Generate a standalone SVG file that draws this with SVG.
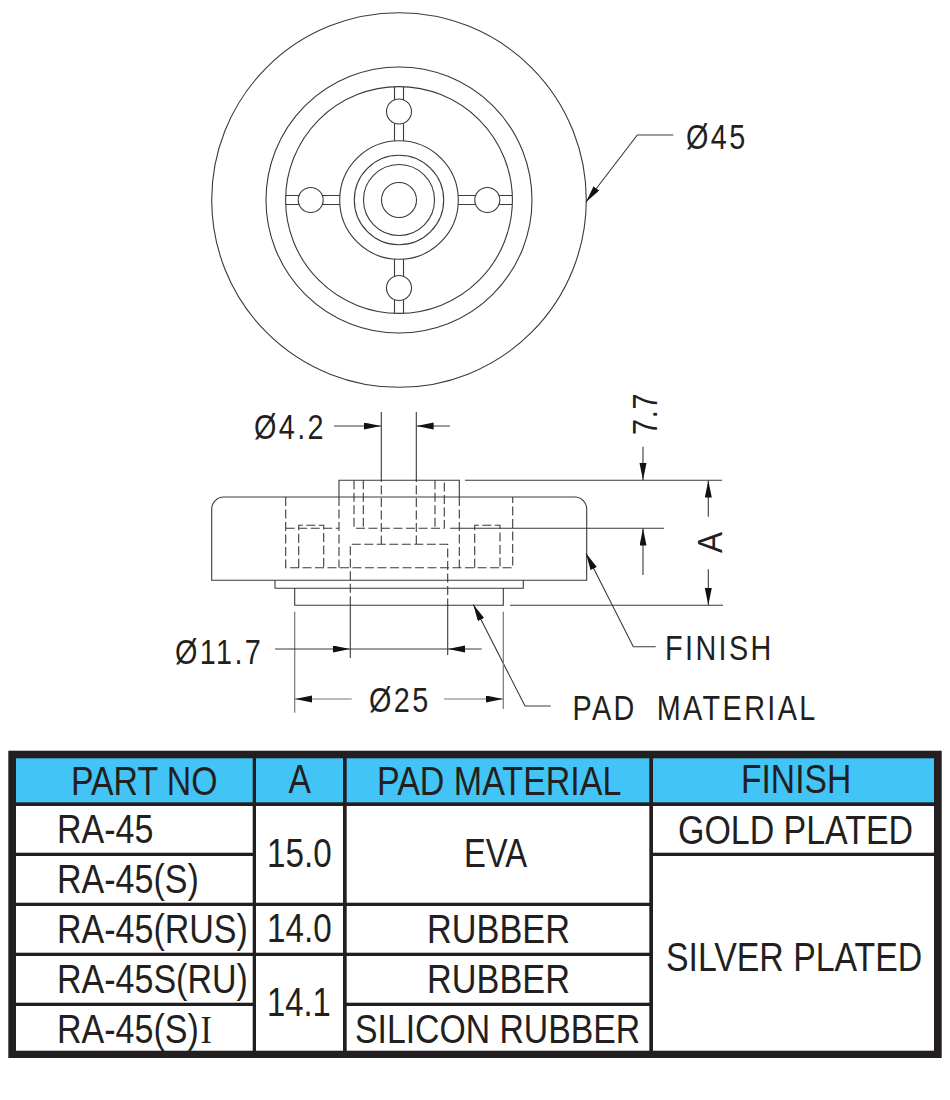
<svg xmlns="http://www.w3.org/2000/svg" width="950" height="1100" viewBox="0 0 950 1100">
<style>
.l{fill:none;stroke:#3a3a3a;stroke-width:1.1}
.g{fill:none;stroke:#777;stroke-width:1.2}
.d{fill:none;stroke:#3a3a3a;stroke-width:1.1;stroke-dasharray:9 3.5}
.c{fill:#fff;stroke:#3a3a3a;stroke-width:1.1}
.t{font-family:"Liberation Sans",Arial,sans-serif;font-size:41px;fill:#231f20}
.s{font-family:"Liberation Sans",Arial,sans-serif;font-size:36px;fill:#231f20;letter-spacing:3px}
.b{fill:#231f20}
</style>
<defs>
<marker id="ah" markerUnits="userSpaceOnUse" markerWidth="18" markerHeight="8" refX="17" refY="3.5" orient="auto"><path d="M0 0L17 3.5L0 7Z" fill="#111"/></marker>
</defs>
<rect width="950" height="1100" fill="#fff"/>
<g id="top-view">
<circle class="l" cx="399" cy="200" r="187.3"/>
<circle class="l" cx="399" cy="200" r="133"/>
<circle class="l" cx="399" cy="200" r="113.4"/>
<circle class="l" cx="399" cy="200" r="59.3"/>
<circle class="l" cx="399" cy="200" r="44.7"/>
<circle class="l" cx="399" cy="200" r="35.5"/>
<circle class="l" cx="399" cy="200" r="17.5"/>
<path class="l" d="M394.5 86.7V141M403.5 86.7V141M394.5 259V313.3M403.5 259V313.3M285.6 195.5H340M285.6 204.5H340M458 195.5H512.4M458 204.5H512.4"/>
<circle class="c" cx="399" cy="111.5" r="12.5"/>
<circle class="c" cx="399" cy="288" r="12.5"/>
<circle class="c" cx="310.7" cy="200" r="12.5"/>
<circle class="c" cx="487.3" cy="200" r="12.5"/>
</g>
<g id="side-view">
<path class="l" d="M211.7 580.3V509A12 12 0 0 1 223.7 497H574.7A12 12 0 0 1 586.7 509V580.3Z"/>
<path class="l" d="M339 497V480.3H459.3V497M275 580.3V588.3H523.3V580.3M294.7 588.3V605.3H503.3V588.3"/>
<path class="d" d="M339 497V567.7M459.3 497V567.7M285.7 497V567.7H512.7V497M285.7 528.3H339M298.7 567.7V525.3H323.7V567.7M474.7 567.7V525.3H500V567.7M354 480.3V528.3H444.3V480.3M363.3 480.3V528.3M435 480.3V528.3M350.3 605.3V544.3H447.7V605.3M381.3 473V544.3M416.3 473V544.3"/>
</g>
<g id="connectors">
<path class="l" d="M673.3 135H637.3L586 202" marker-end="url(#ah)"/>
<path class="l" d="M381.3 412V473M416.3 412V473"/>
<path class="l" d="M334 426H381" marker-end="url(#ah)"/>
<path class="l" d="M450 426H416.6" marker-end="url(#ah)"/>
<path class="l" d="M465 480.3H722M450 528.3H664M510 605.3H723"/>
<path class="l" d="M643 446.7V480" marker-end="url(#ah)"/>
<path class="l" d="M643 575V528.6" marker-end="url(#ah)"/>
<path class="l" d="M708.3 516.7V480.5" marker-end="url(#ah)"/>
<path class="l" d="M708.3 569.3V605" marker-end="url(#ah)"/>
<path class="l" d="M655.7 646.7H633.3L586 553.3" marker-end="url(#ah)"/>
<path class="l" d="M550.7 706H525L473.3 604.5" marker-end="url(#ah)"/>
<path class="g" d="M294.7 611.7V712.7M503.3 611.7V709"/>
<path class="l" d="M350.3 605V658M447.7 605V655"/>
<path class="l" d="M275 649H350" marker-end="url(#ah)"/>
<path class="l" d="M350 649H448" stroke-width="1.5"/>
<path class="l" d="M481.7 649H448" marker-end="url(#ah)"/>
<path class="g" d="M351.7 699H295" marker-end="url(#ah)"/>
<path class="g" d="M444 699H503" marker-end="url(#ah)"/>
</g>
<g id="labels">
<text class="s" transform="translate(686 148.5) scale(.8 1)">Ø45</text>
<text class="s" transform="translate(254 439) scale(.8 1)">Ø4.2</text>
<text class="s" transform="translate(175 663.5) scale(.8 1)">Ø11.7</text>
<text class="s" transform="translate(369 711.7) scale(.8 1)">Ø25</text>
<text class="s" transform="translate(665 660) scale(.8 1)">FINISH</text>
<text class="s" transform="translate(572.5 720) scale(.8 1)" style="letter-spacing:3px;word-spacing:12px">PAD MATERIAL</text>
<text class="s" transform="translate(656.7 435) rotate(-90) scale(.8 1)" style="letter-spacing:1px">7.7</text>
<text class="s" transform="translate(721.7 553) rotate(-90) scale(.875 1)">A</text>
</g>
<g id="table">
<rect x="8.3" y="750.7" width="933.4" height="307.3" class="b"/>
<g fill="#42c5f6">
<rect x="16" y="758.3" width="236.7" height="44"/>
<rect x="256" y="758.3" width="87" height="44"/>
<rect x="346.7" y="758.3" width="302.6" height="44"/>
<rect x="653" y="758.3" width="281" height="44"/>
</g>
<g fill="#fff">
<rect x="16" y="806" width="236.7" height="46.7"/>
<rect x="16" y="856" width="236.7" height="46.7"/>
<rect x="16" y="906" width="236.7" height="46.7"/>
<rect x="16" y="956" width="236.7" height="46.7"/>
<rect x="16" y="1006" width="236.7" height="44.7"/>
<rect x="256" y="806" width="87" height="96.7"/>
<rect x="256" y="906" width="87" height="46.7"/>
<rect x="256" y="956" width="87" height="94.7"/>
<rect x="346.7" y="806" width="302.6" height="96.7"/>
<rect x="346.7" y="906" width="302.6" height="46.7"/>
<rect x="346.7" y="956" width="302.6" height="46.7"/>
<rect x="346.7" y="1006" width="302.6" height="44.7"/>
<rect x="653" y="806" width="281" height="46.7"/>
<rect x="653" y="856" width="281" height="194.7"/>
</g>
<text class="t" transform="translate(71 795) scale(.825 1)">PART NO</text>
<text class="t" transform="translate(288.5 793.3) scale(.82 1)">A</text>
<text class="t" transform="translate(377 795) scale(.83 1)">PAD MATERIAL</text>
<text class="t" transform="translate(741 793.3) scale(.82 1)">FINISH</text>
<text class="t" transform="translate(57 843.3) scale(.83 1)">RA-45</text>
<text class="t" transform="translate(57 893.3) scale(.83 1)">RA-45(S)</text>
<text class="t" transform="translate(57 943.3) scale(.83 1)">RA-45(RUS)</text>
<text class="t" transform="translate(57 993.3) scale(.83 1)">RA-45S(RU)</text>
<text class="t" transform="translate(57 1043.3) scale(.83 1)">RA-45(S)<tspan dx="2" font-family="'Liberation Serif',serif">I</tspan></text>
<text class="t" transform="translate(267 867.3) scale(.81 1)">15.0</text>
<text class="t" transform="translate(267 942.3) scale(.81 1)">14.0</text>
<text class="t" transform="translate(267 1016.3) scale(.8 1)">14.1</text>
<text class="t" transform="translate(464 867.3) scale(.8 1)">EVA</text>
<text class="t" transform="translate(427 943.3) scale(.837 1)">RUBBER</text>
<text class="t" transform="translate(427 993.3) scale(.837 1)">RUBBER</text>
<text class="t" transform="translate(355 1043.3) scale(.824 1)">SILICON RUBBER</text>
<text class="t" transform="translate(678 844.3) scale(.828 1)">GOLD PLATED</text>
<text class="t" transform="translate(666 971.3) scale(.825 1)">SILVER PLATED</text>
</g>
</svg>
